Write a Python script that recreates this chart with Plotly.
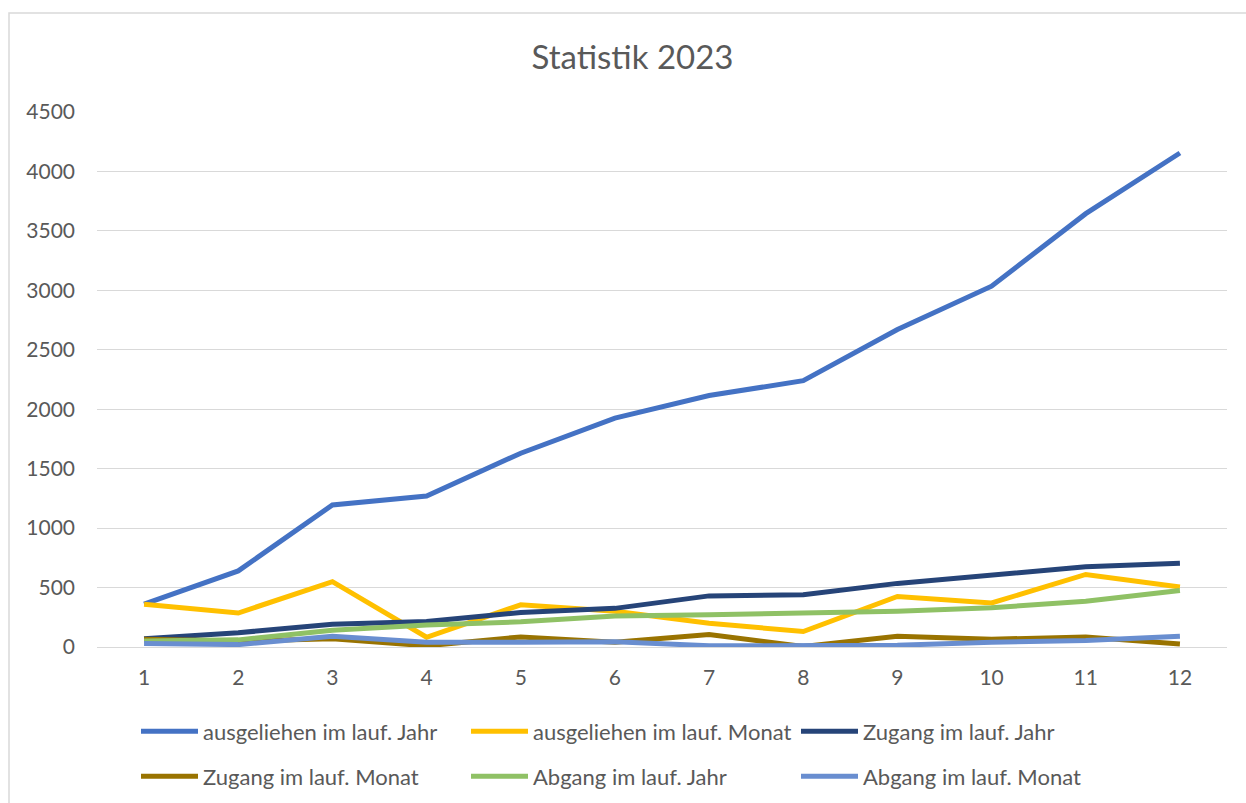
import plotly.graph_objects as go

months = [1, 2, 3, 4, 5, 6, 7, 8, 9, 10, 11, 12]
ausgeliehen_jahr = [360, 640, 1195, 1270, 1630, 1925, 2115, 2240, 2670, 3035, 3645, 4155]
ausgeliehen_monat = [360, 286, 550, 82, 355, 300, 200, 130, 425, 370, 610, 505]
zugang_jahr = [70, 120, 192, 215, 290, 325, 430, 440, 535, 600, 675, 705]
zugang_monat = [65, 50, 70, 10, 85, 40, 105, 5, 90, 65, 85, 25]
abgang_jahr = [50, 60, 140, 185, 212, 260, 272, 285, 300, 330, 385, 475]
abgang_monat = [30, 20, 90, 40, 40, 45, 10, 10, 15, 40, 55, 90]

series = [
    ("ausgeliehen im lauf. Jahr", ausgeliehen_jahr, "#4472C4", "legend"),
    ("ausgeliehen im lauf. Monat", ausgeliehen_monat, "#FFC000", "legend"),
    ("Zugang im lauf. Jahr", zugang_jahr, "#264478", "legend"),
    ("Zugang im lauf. Monat", zugang_monat, "#997300", "legend2"),
    ("Abgang im lauf. Jahr", abgang_jahr, "#8FC165", "legend2"),
    ("Abgang im lauf. Monat", abgang_monat, "#698ED0", "legend2"),
]

W, H = 1246, 803
L, R, T, B = 97, 19, 112, 156
FONT = "Lato, 'Open Sans', sans-serif"
TXT = "#595959"

fig = go.Figure()
for name, vals, col, lg in series:
    fig.add_trace(go.Scatter(x=months, y=vals, name=name, mode="lines", legend=lg,
                             line=dict(color=col, width=5)))

pw = W - L - R
ph = H - T - B
def px_x(p):
    return (p - L) / pw
def px_y(p):
    return (H - B - p) / ph

leg_common = dict(orientation="h", xanchor="left", yanchor="middle",
                  xref="container", yref="container",
                  entrywidth=258, entrywidthmode="pixels", itemwidth=57,
                  font=dict(size=22, color=TXT, family=FONT),
                  bgcolor="rgba(0,0,0,0)")

fig.update_layout(
    width=W, height=H, autosize=False,
    margin=dict(l=L, r=R, t=T, b=B, autoexpand=False),
    paper_bgcolor="white", plot_bgcolor="white",
    font=dict(family=FONT, size=21, color=TXT),
    title=dict(text="Statistik 2023", x=632.5 / W, xanchor="center", xref="container",
               y=1 - 57 / H, yanchor="middle", yref="container",
               font=dict(size=33, color=TXT, family=FONT)),
    showlegend=True,
    legend=dict(x=136 / W, y=1 - 731.5 / H, **leg_common),
    legend2=dict(x=136 / W, y=1 - 776.5 / H, **leg_common),
    xaxis=dict(range=[0.5, 12.5], tickmode="array", tickvals=months,
               ticktext=[str(m) for m in months], showgrid=False, zeroline=False,
               showline=False, ticks="", ticklabelstandoff=16, automargin=False,
               tickfont=dict(size=21, color=TXT, family=FONT)),
    yaxis=dict(range=[0, 4500], tickmode="array", tickvals=list(range(0, 4501, 500)),
               showgrid=True, gridcolor="#D9D9D9", gridwidth=1, zeroline=True,
               zerolinecolor="#D9D9D9", zerolinewidth=1, showline=False, ticks="",
               ticklabelstandoff=21, automargin=False,
               tickfont=dict(size=21, color=TXT, family=FONT)),
    shapes=[dict(type="rect", xref="paper", yref="paper",
                 x0=px_x(9), x1=px_x(1260), y0=px_y(820), y1=px_y(13),
                 line=dict(color="#D9D9D9", width=1.5), fillcolor="rgba(0,0,0,0)", layer="below")],
)

fig.write_html("out.html",
               config={"displayModeBar": False, "responsive": False},
               post_script="document.body.style.margin='0';document.body.style.padding='0';")
